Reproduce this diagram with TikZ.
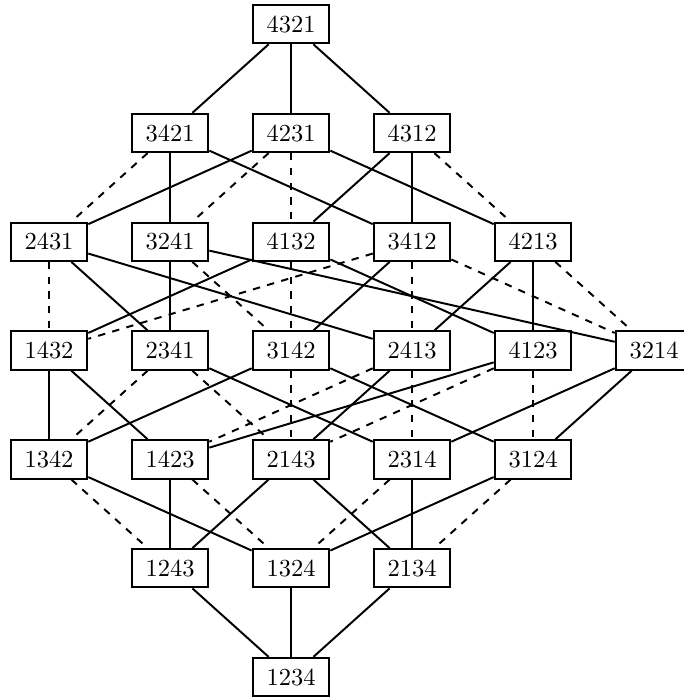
\documentclass[tikz,border=0pt]{standalone}
\begin{document}
\begin{tikzpicture}[x=1.736cm,y=1.561cm,
    perm/.style={shape=rectangle,draw=black,line width=0.8pt,minimum width=1.1cm,minimum height=0.55cm,inner sep=0pt},
    weak/.style={line width=0.8pt},
    strong/.style={line width=0.8pt,dashed}]
    \useasboundingbox (-4.175cm,-0.301cm) rectangle (5.624cm,9.713cm);

    \node[perm] (p4321) at (0,6) {4321};

    \node[perm] (p3421) at (-1,5) {3421};
    \node[perm] (p4231) at (0,5) {4231};
    \node[perm] (p4312) at (1,5) {4312};

    \node[perm] (p2431) at (-2,4) {2431};
    \node[perm] (p3241) at (-1,4) {3241};
    \node[perm] (p4132) at (0,4) {4132};
    \node[perm] (p3412) at (1,4) {3412};
    \node[perm] (p4213) at (2,4) {4213};

    \node[perm] (p1432) at (-2,3) {1432};
    \node[perm] (p2341) at (-1,3) {2341};
    \node[perm] (p3142) at (0,3) {3142};
    \node[perm] (p2413) at (1,3) {2413};
    \node[perm] (p4123) at (2,3) {4123};
    \node[perm] (p3214) at (3,3) {3214};

    \node[perm] (p1342) at (-2,2) {1342};
    \node[perm] (p1423) at (-1,2) {1423};
    \node[perm] (p2143) at (0,2) {2143};
    \node[perm] (p2314) at (1,2) {2314};
    \node[perm] (p3124) at (2,2) {3124};

    \node[perm] (p1243) at (-1,1) {1243};
    \node[perm] (p1324) at (0,1) {1324};
    \node[perm] (p2134) at (1,1) {2134};

    \node[perm] (p1234) at (0,0) {1234};

    \path [weak] (p4321) edge (p3421);
    \path [weak] (p4321) edge (p4231);
    \path [weak] (p4321) edge (p4312);

    \path [strong] (p3421) edge (p2431);
    \path [weak] (p3421) edge (p3241);
    \path [weak] (p3421) edge (p3412);
    \path [weak] (p4231) edge (p2431);
    \path [strong] (p4231) edge (p3241);
    \path [strong] (p4231) edge (p4132);
    \path [weak] (p4231) edge (p4213);
    \path [weak] (p4312) edge (p4132);
    \path [weak] (p4312) edge (p3412);
    \path [strong] (p4312) edge (p4213);

    \path [strong] (p2431) edge (p1432);
    \path [weak] (p2431) edge (p2341);
    \path [weak] (p2431) edge (p2413);
    \path [weak] (p3241) edge (p2341);
    \path [strong] (p3241) edge (p3142);
    \path [weak] (p3241) edge (p3214);
    \path [weak] (p4132) edge (p1432);
    \path [strong] (p4132) edge (p3142);
    \path [weak] (p4132) edge (p4123);
    \path [strong] (p3412) edge (p1432);
    \path [weak] (p3412) edge (p3142);
    \path [strong] (p3412) edge (p2413);
    \path [strong] (p3412) edge (p3214);
    \path [weak] (p4213) edge (p2413);
    \path [weak] (p4213) edge (p4123);
    \path [strong] (p4213) edge (p3214);

    \path [weak] (p1432) edge (p1342);
    \path [weak] (p1432) edge (p1423);
    \path [strong] (p2341) edge (p1342);
    \path [strong] (p2341) edge (p2143);
    \path [weak] (p2341) edge (p2314);
    \path [weak] (p3142) edge (p1342);
    \path [strong] (p3142) edge (p2143);
    \path [weak] (p3142) edge (p3124);
    \path [strong] (p2413) edge (p1423);
    \path [weak] (p2413) edge (p2143);
    \path [strong] (p2413) edge (p2314);
    \path [weak] (p4123) edge (p1423);
    \path [strong] (p4123) edge (p2143);
    \path [strong] (p4123) edge (p3124);
    \path [weak] (p3214) edge (p2314);
    \path [weak] (p3214) edge (p3124);

    \path [strong] (p1342) edge (p1243);
    \path [weak] (p1342) edge (p1324);
    \path [weak] (p1423) edge (p1243);
    \path [strong] (p1423) edge (p1324);
    \path [weak] (p2143) edge (p1243);
    \path [weak] (p2143) edge (p2134);
    \path [strong] (p2314) edge (p1324);
    \path [weak] (p2314) edge (p2134);
    \path [weak] (p3124) edge (p1324);
    \path [strong] (p3124) edge (p2134);

    \path [weak] (p1243) edge (p1234);
    \path [weak] (p1324) edge (p1234);
    \path [weak] (p2134) edge (p1234);
\end{tikzpicture}
\end{document}
